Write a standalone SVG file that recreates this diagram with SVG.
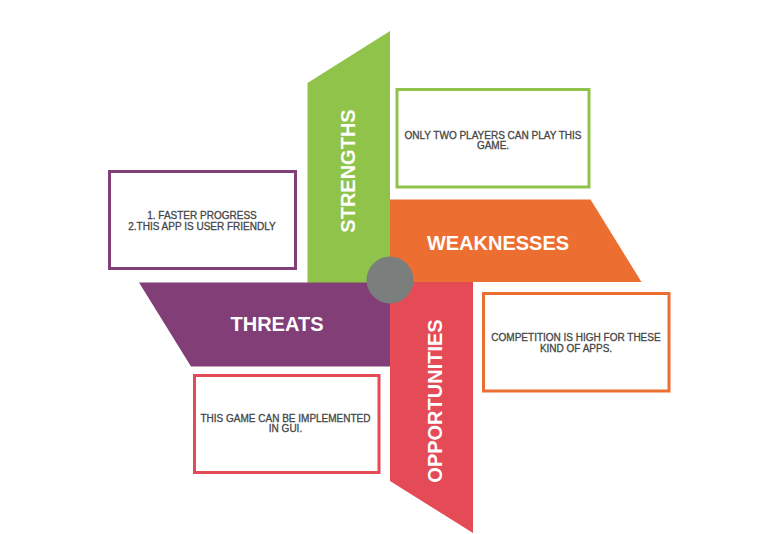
<svg xmlns="http://www.w3.org/2000/svg" width="781" height="534" viewBox="0 0 781 534">
<style>
.lbl{font-family:"Liberation Sans",Arial,sans-serif;font-weight:bold;font-size:20px;fill:#ffffff;text-anchor:middle}
.txt{font-family:"Liberation Sans",Arial,sans-serif;font-size:10px;fill:#464646;stroke:#464646;stroke-width:0.3;text-anchor:middle}
.box{fill:#ffffff;stroke-width:3}
</style>
<rect width="781" height="534" fill="#ffffff"/>
<g id="strengths">
<polygon points="307.5,83 390,31 390,283 307.5,283" fill="#8FC34A"/>
<text class="lbl" transform="translate(355,171) rotate(-90)">STRENGTHS</text>
</g>
<g id="weaknesses">
<polygon points="390,199.5 590.5,199.5 641.5,282 390,282" fill="#ED6E31"/>
<text class="lbl" x="498" y="250">WEAKNESSES</text>
</g>
<g id="threats">
<polygon points="139,282.5 390,282.5 390,366.5 191,366.5" fill="#813E77"/>
<text class="lbl" x="277" y="331">THREATS</text>
</g>
<g id="opportunities">
<polygon points="390,282 473,282 473,533 390,481" fill="#E54A57"/>
<text class="lbl" transform="translate(441.5,401) rotate(-90)">OPPORTUNITIES</text>
</g>
<g id="center">
<circle cx="390" cy="280" r="23.5" fill="#7A7F7E"/>
</g>
<g id="strengths-box">
<rect class="box" x="109.5" y="171.5" width="186" height="97" stroke="#813E77"/>
<text class="txt" x="202" y="218.6">1. FASTER PROGRESS</text>
<text class="txt" x="202" y="229.6">2.THIS APP IS USER FRIENDLY</text>
</g>
<g id="weaknesses-box">
<rect class="box" x="397" y="89.5" width="192" height="97.5" stroke="#8FC34A"/>
<text class="txt" x="493" y="138.6">ONLY TWO PLAYERS CAN PLAY THIS</text>
<text class="txt" x="493" y="148.8">GAME.</text>
</g>
<g id="opportunities-box">
<rect class="box" x="483.5" y="293.5" width="185.5" height="97.5" stroke="#ED6E31"/>
<text class="txt" x="576" y="341.3">COMPETITION IS HIGH FOR THESE</text>
<text class="txt" x="576" y="351.5">KIND OF APPS.</text>
</g>
<g id="threats-box">
<rect class="box" x="194.5" y="375.5" width="184.5" height="97" stroke="#E54A57"/>
<text class="txt" x="285.5" y="421.6">THIS GAME CAN BE IMPLEMENTED</text>
<text class="txt" x="285.5" y="431.8">IN GUI.</text>
</g>
<g id="connectors"></g>
</svg>
